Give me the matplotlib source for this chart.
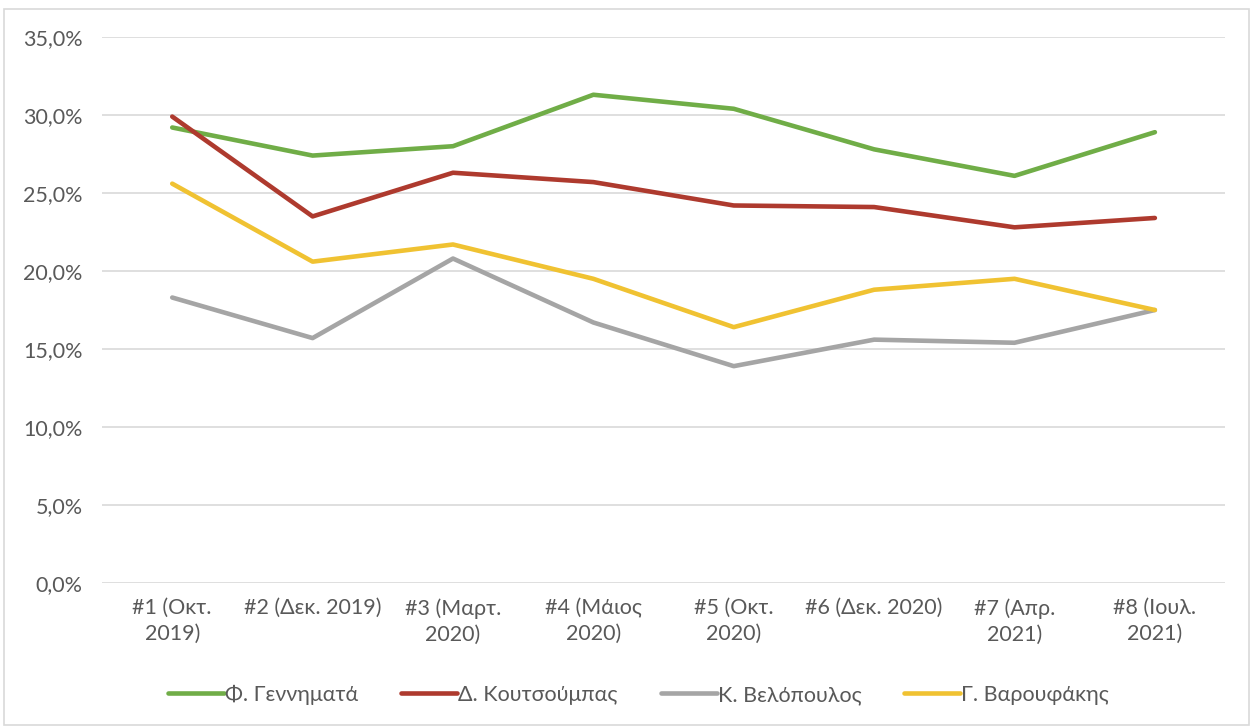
import matplotlib.pyplot as plt
from matplotlib.patches import Rectangle
from matplotlib.ticker import FuncFormatter

plt.rcParams['font.family'] = ['Lato', 'DejaVu Sans']

categories = ['#1 (Οκτ.\n2019)', '#2 (Δεκ. 2019)', '#3 (Μαρτ.\n2020)', '#4 (Μάιος\n2020)',
              '#5 (Οκτ.\n2020)', '#6 (Δεκ. 2020)', '#7 (Απρ.\n2021)', '#8 (Ιουλ.\n2021)']

gennimata = [29.2, 27.4, 28.0, 31.3, 30.4, 27.8, 26.1, 28.9]
koutsoumpas = [29.9, 23.5, 26.3, 25.7, 24.2, 24.1, 22.8, 23.4]
velopoulos = [18.3, 15.7, 20.8, 16.7, 13.9, 15.6, 15.4, 17.5]
varoufakis = [25.6, 20.6, 21.7, 19.5, 16.4, 18.8, 19.5, 17.5]

series = [
    ('Φ. Γεννηματά', gennimata, '#70AD47'),
    ('Δ. Κουτσούμπας', koutsoumpas, '#AE3A2E'),
    ('Κ. Βελόπουλος', velopoulos, '#A5A5A5'),
    ('Γ. Βαρουφάκης', varoufakis, '#F0C232'),
]

fig = plt.figure(figsize=(12.52, 7.26), dpi=100)
ax = fig.add_axes([0.0815, 0.197, 0.897, 0.752])

x = range(len(categories))
for name, vals, color in series:
    ax.plot(x, vals, color=color, lw=3.3, label=name, solid_capstyle='round')

ax.set_xlim(-0.5, len(categories) - 0.5)
ax.set_ylim(0, 35)
ax.set_yticks(range(0, 36, 5))
ax.yaxis.set_major_formatter(FuncFormatter(lambda v, p: f'{v:.1f}%'.replace('.', ',')))
ax.set_xticks(list(x))
ax.set_xticklabels(categories, linespacing=1.35)
ax.grid(axis='y', color='#D9D9D9', lw=1.2)
ax.set_axisbelow(True)
for s in ax.spines.values():
    s.set_visible(False)
ax.tick_params(length=0, labelsize=15.5, labelcolor='#595959')
ax.tick_params(axis='x', pad=11)
ax.tick_params(axis='y', pad=14)

ax.legend(loc='center', bbox_to_anchor=(0.51, 0.043), bbox_transform=fig.transFigure,
          ncol=4, frameon=False, fontsize=15.5, labelcolor='#595959',
          handlelength=2.6, handletextpad=0.05, columnspacing=2.0)

fig.patches.append(Rectangle((0.003, 0.002), 0.995, 0.985, transform=fig.transFigure,
                             fill=False, edgecolor='#D9D9D9', lw=1.2))

fig.savefig('out.png', dpi=100)
